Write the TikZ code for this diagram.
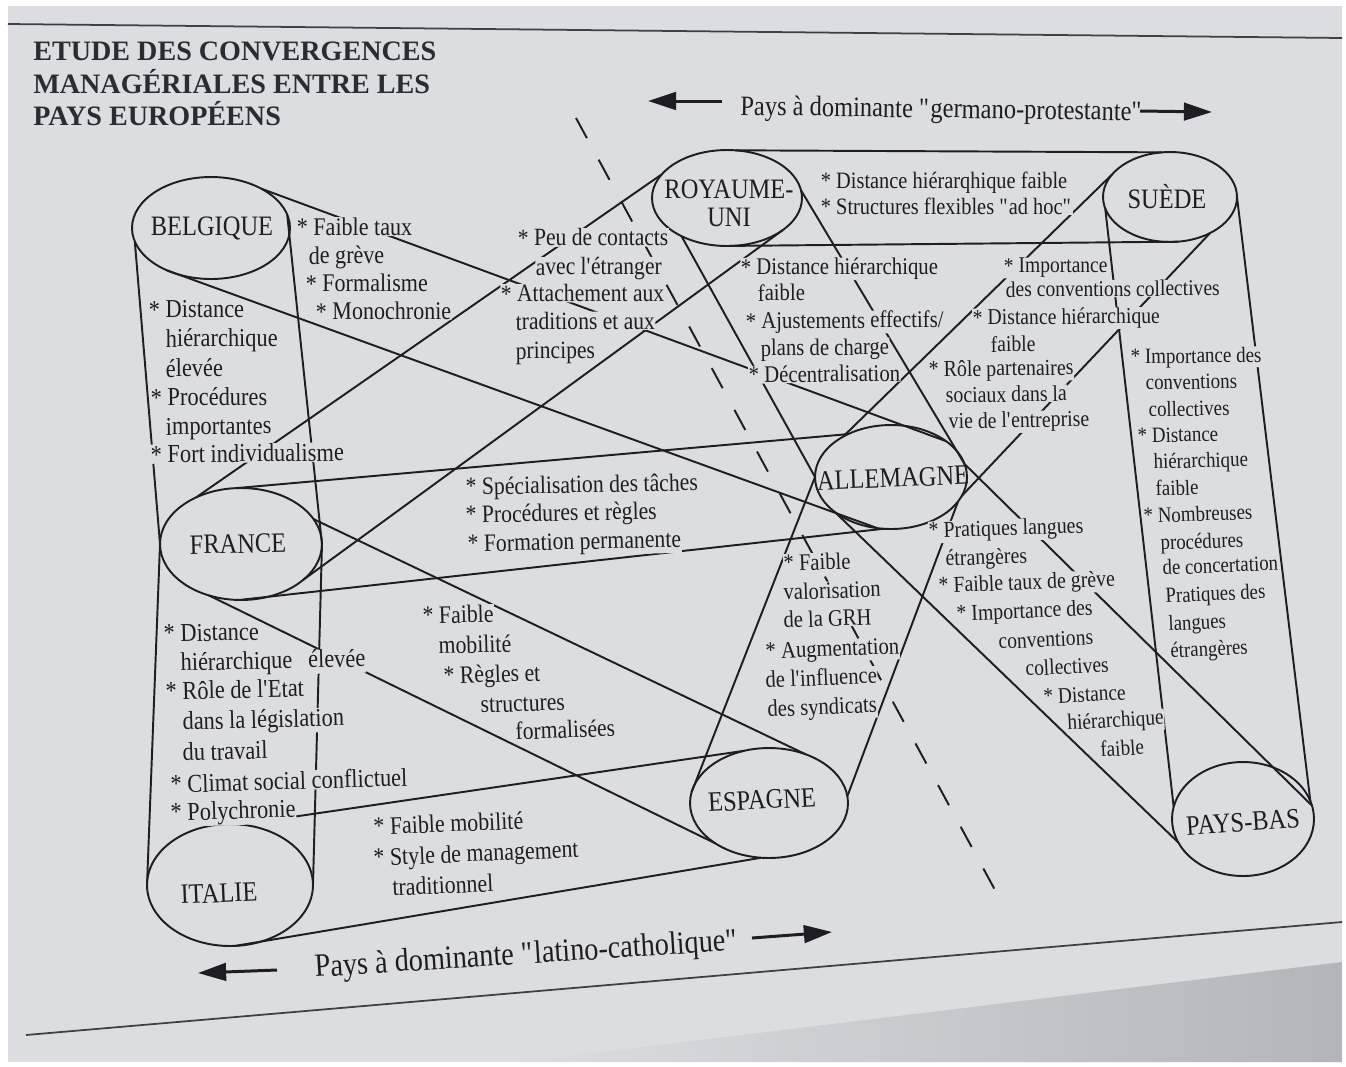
\documentclass[tikz,border=0pt]{standalone}
\usepackage{fontspec}
\setmainfont{Liberation Serif}[FakeStretch=0.87]
\newfontfamily\headfont{Liberation Serif}
\usetikzlibrary{arrows.meta,shapes.geometric}
\definecolor{paper}{HTML}{DCDDE1}
\definecolor{papershadow}{HTML}{B4B5BA}
\definecolor{ink}{HTML}{1D1D23}
\definecolor{titleink}{HTML}{2B2B34}
% straight quote marks, taken as glyphs so that no font mapping curls them
\newcommand\dq{\XeTeXglyph\XeTeXcharglyph"22\relax}
\newcommand\ap{\XeTeXglyph\XeTeXcharglyph"27\relax}
% one line of a text block: name, x, y (middle of the line), text
\newcommand\T[4]{%
  \pgfmathsetmacro\fs{14*((#2<600) ? (1+0.0001*(600-#2)) : (1-0.00022*(#2-600)))}%
  \node[tx, font=\fontsize{\fs}{16}\selectfont,
        rotate={max(0,#3-230)*0.0036*(1+(#2-300)/900)}] (#1) at (#2,#3+7) {#4};}
\begin{document}
\begin{tikzpicture}[x=0.02cm, y=-0.02cm,
  country/.style={ellipse, draw=ink, line width=1.1pt, inner sep=0pt, outer sep=0pt},
  band/.style={draw=ink, line width=1.1pt},
  tx/.style={anchor=base west, inner sep=0.3pt, fill=paper, text=ink},
  lbl/.style={text=ink, font=\fontsize{16}{16}\selectfont, align=center, inner sep=0pt},
  fat/.style={draw=ink, line width=1.7pt, -{Triangle[length=16pt,width=10pt]}},
  divider/.style={draw=ink, line width=1.1pt, dash pattern=on 13pt off 14pt},
  rule/.style={draw=ink!85, line width=1pt},
]
\useasboundingbox (0,0) rectangle (1346,1066);
% page
\fill[white] (0,0) rectangle (1346,1066);
\fill[paper] (8,6) rectangle (1342,1062);
\begin{scope}
  \clip (520,1062) -- (1342,962) -- (1342,1062) -- cycle;
  \shade[left color=paper, right color=papershadow] (520,940) rectangle (1342,1062);
\end{scope}
\draw[rule] (8,24) -- (1342,38);
\draw[rule] (26,1035) -- (1342,922);

% title
\node[anchor=base west, inner sep=0, text=titleink, font=\headfont\bfseries\fontsize{16}{16}\selectfont] (t1) at (33,60) {ETUDE DES CONVERGENCES};
\node[anchor=base west, inner sep=0, text=titleink, font=\headfont\bfseries\fontsize{16}{16}\selectfont] (t2) at (33,93) {MANAGÉRIALES ENTRE LES};
\node[anchor=base west, inner sep=0, text=titleink, font=\headfont\bfseries\fontsize{16}{16}\selectfont] (t3) at (33,125) {PAYS EUROPÉENS};

% countries
\node[country, minimum width=3.16cm, minimum height=2.04cm] (be) at (211,228) {};
\node[country, minimum width=3.00cm, minimum height=1.92cm] (ru) at (727,198) {};
\node[country, minimum width=2.68cm, minimum height=1.80cm] (se) at (1170,197) {};
\node[country, minimum width=3.24cm, minimum height=2.24cm] (fr) at (241,544) {};
\node[country, minimum width=3.04cm, minimum height=2.08cm] (de) at (891,477) {};
\node[country, minimum width=3.16cm, minimum height=2.20cm] (es) at (769,803) {};
\node[country, minimum width=3.32cm, minimum height=2.44cm] (it) at (230,885) {};
\node[country, minimum width=2.84cm, minimum height=2.28cm] (nl) at (1243,819) {};

% dashed divide between the two groups
\coordinate (dvA) at (576,118);
\coordinate (dvB) at (995,890);
\draw[divider] (dvA) -- (dvB);

% bands between countries
\draw[band] (be.190) -- (fr.180) -- (it.178);
\draw[band] (be.10) -- (fr.0) -- (it.0);
\draw[band] (be.38) -- (de.33);
\draw[band] (be.224) -- (de.255);
\draw[band] (ru.160) -- (fr.134);
\draw[band] (ru.330) -- (fr.330);
\draw[band] (ru.80) -- (se.100);
\draw[band] (ru.275) -- (se.280);
\draw[band] (ru.6) -- (de.10);
\draw[band] (ru.220) -- (de.180);
\draw[band] (se.159) -- (de.140);
\draw[band] (se.318) -- (de.345);
\draw[band] (se.190) -- (nl.170);
\draw[band] (se.0) -- (nl.15);
\draw[band] (fr.95) -- (de.135);
\draw[band] (fr.268) -- (de.262);
\draw[band] (fr.19) -- (es.53);
\draw[band] (fr.238) -- (es.217);
\draw[band] (it.80) -- (es.115);
\draw[band] (it.275) -- (es.262);
\draw[band] (de.180) -- (es.172);
\draw[band] (de.340) -- (es.5);
\draw[band] (de.212) -- (nl.200);
\draw[band] (de.10) -- (nl.11);

% Belgique
\T{b1}{296}{228}{* Faible taux}
\T{b2}{308}{257}{de grève}
\T{b3}{305}{285}{* Formalisme}
\T{b4}{315}{313}{* Monochronie}
\T{b5}{148}{311}{* Distance}
\T{b6}{165}{340}{hiérarchique}
\T{b7}{165}{370}{élevée}
\T{b8}{150}{399}{* Procédures}
\T{b9}{165}{428}{importantes}
\T{b10}{150}{456}{* Fort individualisme}
% Royaume-Uni / France
\T{r1}{517}{239}{* Peu de contacts}
\T{r2}{535}{268}{avec l\ap étranger}
\T{r3}{500}{295}{* Attachement aux}
\T{r4}{515}{323}{traditions et aux}
\T{r5}{515}{352}{principes}
% Royaume-Uni / Suède
\T{s1}{820}{181}{* Distance hiérarqhique faible}
\T{s2}{820}{207}{* Structures flexibles \dq ad hoc\dq}
% Royaume-Uni / Allemagne
\T{u1}{740}{268}{* Distance hiérarchique}
\T{u2}{757}{294}{faible}
\T{u3}{745}{322}{* Ajustements effectifs/}
\T{u4}{760}{349}{plans de charge}
\T{u5}{748}{376}{* Décentralisation}
% Suède / Allemagne
\T{g1}{1003}{266}{* Importance}
\T{g2}{1005}{290}{des conventions collectives}
\T{g3}{972}{318}{* Distance hiérarchique}
\T{g4}{990}{345}{faible}
\T{g5}{928}{370}{* Rôle partenaires}
\T{g6}{945}{396}{sociaux dans la}
\T{g7}{948}{422}{vie de l\ap entreprise}
% Suède / Pays-Bas
\T{n1}{1130}{357}{* Importance des}
\T{n2}{1145}{383}{conventions}
\T{n3}{1148}{410}{collectives}
\T{n4}{1137}{436}{* Distance}
\T{n5}{1153}{462}{hiérarchique}
\T{n6}{1155}{489}{faible}
\T{n7}{1143}{516}{* Nombreuses}
\T{n8}{1160}{543}{procédures}
\T{n9}{1162}{568}{de concertation}
\T{n10}{1165}{596}{Pratiques des}
\T{n11}{1168}{624}{langues}
\T{n12}{1170}{651}{étrangères}
% France / Allemagne
\T{f1}{465}{488}{* Spécialisation des tâches}
\T{f2}{465}{516}{* Procédures et règles}
\T{f3}{467}{545}{* Formation permanente}
% France / Italie
\T{i1}{163}{635}{* Distance}
\T{i2}{180}{664}{hiérarchique\hspace*{9pt}élevée}
\T{i3}{165}{693}{* Rôle de l\ap Etat}
\T{i4}{182}{723}{dans la législation}
\T{i5}{182}{754}{du travail}
\T{i6}{170}{786}{* Climat social conflictuel}
\T{i7}{170}{814}{* Polychronie}
% France / Espagne
\T{e1}{422}{617}{* Faible}
\T{e2}{438}{647}{mobilité}
\T{e3}{443}{677}{* Règles et}
\T{e4}{480}{706}{structures}
\T{e5}{515}{733}{formalisées}
% Italie / Espagne
\T{m1}{373}{828}{* Faible mobilité}
\T{m2}{373}{859}{* Style de management}
\T{m3}{392}{889}{traditionnel}
% Allemagne / Espagne
\T{d1}{783}{564}{* Faible}
\T{d2}{783}{593}{valorisation}
\T{d3}{783}{621}{de la GRH}
\T{d4}{765}{652}{* Augmentation}
\T{d5}{765}{681}{de l\ap influence}
\T{d6}{767}{710}{des syndicats}
% Allemagne / Pays-Bas
\T{p1}{928}{531}{* Pratiques langues}
\T{p2}{945}{559}{étrangères}
\T{p3}{938}{586}{* Faible taux de grève}
\T{p4}{956}{614}{* Importance des}
\T{p5}{998}{642}{conventions}
\T{p6}{1025}{669}{collectives}
\T{p7}{1043}{697}{* Distance}
\T{p8}{1067}{723}{hiérarchique}
\T{p9}{1100}{750}{faible}

% country names
\node[lbl] (lbe) at (212,228) {BELGIQUE};
\node[lbl] (lru) at (729,203) {ROYAUME-\\UNI};
\node[lbl] (lse) at (1167,197) {SUÈDE};
\node[lbl, rotate=1.2] (lfr) at (238,544) {FRANCE};
\node[lbl, rotate=2.2] (lde) at (893,478) {ALLEMAGNE};
\node[lbl, rotate=3] (les) at (762,800) {ESPAGNE};
\node[lbl, rotate=2.5] (lit) at (219,893) {ITALIE};
\node[lbl, rotate=4] (lnl) at (1243,822) {PAYS-BAS};

% the two groupings
\node[anchor=base west, inner sep=0, text=ink, font=\fontsize{16}{16}\selectfont, rotate=-0.8] (hg) at (740,115) {Pays à dominante \dq germano-protestante\dq};
\coordinate (hgLa) at (722,101);
\coordinate (hgLb) at (648,101);
\coordinate (hgRa) at (1140,111);
\coordinate (hgRb) at (1212,112);
\draw[fat] (hgLa) -- (hgLb);
\draw[fat] (hgRa) -- (hgRb);

\node[anchor=base west, inner sep=0, text=ink, font=\fontsize{18.5}{18.5}\selectfont, rotate=3.6] (hl) at (315,977) {Pays à dominante \dq latino-catholique\dq};
\coordinate (hlLa) at (277,970);
\coordinate (hlLb) at (198,973);
\coordinate (hlRa) at (752,938);
\coordinate (hlRb) at (832,932);
\draw[fat] (hlLa) -- (hlLb);
\draw[fat] (hlRa) -- (hlRb);
\end{tikzpicture}
\end{document}
